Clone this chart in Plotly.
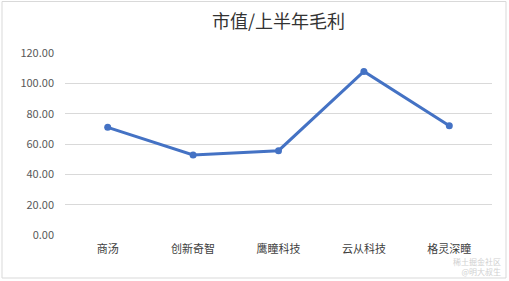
import plotly.graph_objects as go

categories = ["商汤", "创新奇智", "鹰瞳科技", "云从科技", "格灵深瞳"]
values = [71.0, 52.8, 55.6, 107.8, 72.0]
y_ticks = [0, 20, 40, 60, 80, 100, 120]
y_tick_labels = ["%.2f" % v for v in y_ticks]

W, H = 509, 281
L, R, T, B = 65, 17, 53, 46
pw, ph = W - L - R, H - T - B

def px_x(x):
    return (x - L) / pw

def px_y(y):
    return (H - B - y) / ph

fig = go.Figure()
fig.add_trace(go.Scatter(
    x=categories, y=values, mode="lines+markers",
    line=dict(color="#4472C4", width=3),
    marker=dict(color="#4472C4", size=7),
    hoverinfo="skip", showlegend=False,
))

font_family = "Noto Sans CJK SC, Noto Sans, sans-serif"
fig.update_layout(
    width=W, height=H,
    margin=dict(l=L, r=R, t=T, b=B),
    paper_bgcolor="white", plot_bgcolor="white",
    font=dict(family=font_family, color="#595959", size=11),
    title=dict(text="市值/上半年毛利", x=0.5, xref="paper", xanchor="center",
               y=1 - 22 / H, yanchor="middle",
               font=dict(size=18, color="#333333", family=font_family)),
    xaxis=dict(type="category", range=[-0.5, 4.5], showgrid=False,
               showline=False, zeroline=False, ticks="",
               tickfont=dict(size=11, color="#404040"), ticklabelstandoff=6),
    yaxis=dict(range=[0, 120], tickvals=y_ticks, ticktext=y_tick_labels,
               showgrid=True, gridcolor="#D9D9D9", gridwidth=1,
               zeroline=False, showline=False, ticks="",
               tickfont=dict(size=11, color="#595959"), ticklabelstandoff=10),
    shapes=[dict(type="rect", xref="paper", yref="paper",
                 x0=px_x(2), x1=px_x(506), y0=px_y(278), y1=px_y(1.5),
                 line=dict(color="#D9D9D9", width=1), fillcolor="rgba(0,0,0,0)",
                 layer="below")],
    annotations=[
        dict(text="稀土掘金社区<br>@明大叔生", xref="paper", yref="paper",
             x=px_x(503), y=px_y(279), xanchor="right", yanchor="bottom",
             align="right", showarrow=False,
             font=dict(size=8, color="#D0D0D0")),
    ],
)

fig.write_html("out.html")
